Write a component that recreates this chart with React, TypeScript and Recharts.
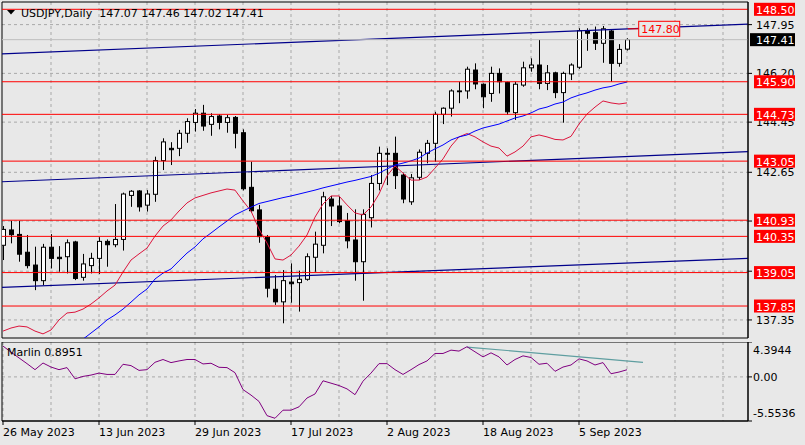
import React from "react";
import {
  ComposedChart,
  Bar,
  Line,
  XAxis,
  YAxis,
  CartesianGrid,
  ReferenceLine,
  ReferenceArea,
  ReferenceDot,
} from "recharts";

const FONT = "'DejaVu Sans', Tahoma, sans-serif";
const BG = "#E8E8E8";

// USDJPY daily candles, 26 May 2023 .. 13 Sep 2023 (one entry per bar)
const opens = [
  140.03, 140.58, 140.42, 139.78, 139.32, 138.76, 139.96, 139.6, 139.62, 140.15,
  138.88, 139.3, 139.56, 140.17, 140.05, 140.24, 141.82, 141.98, 141.47, 141.86,
  143.07, 143.51, 143.51, 144.05, 144.44, 144.77, 144.37, 144.67, 144.44, 144.62,
  144.07, 142.11, 141.3, 140.32, 138.45, 138.0, 138.71, 138.69, 138.81, 139.6,
  140.03, 141.69, 141.44, 140.91, 140.22, 139.44, 141.02, 142.25, 143.33, 143.33,
  142.55, 141.59, 142.47, 143.33, 143.69, 144.73, 144.95, 145.57, 145.57, 146.32,
  145.81, 145.48, 146.2, 145.87, 144.79, 145.78, 146.4, 146.5, 145.84, 146.22,
  145.51, 146.18, 146.42, 147.73, 147.66, 147.28, 147.72, 146.56, 147.07,
];
const highs = [
  140.72, 140.91, 140.91, 140.4, 139.98, 140.08, 140.43, 140.0, 140.24, 140.19,
  139.72, 139.76, 140.32, 140.24, 141.51, 141.92, 142.01, 142.01, 142.01, 143.21,
  143.87, 143.73, 144.17, 144.59, 144.92, 145.07, 144.77, 144.73, 144.71, 144.67,
  144.19, 143.03, 141.48, 140.4, 138.96, 139.14, 139.38, 139.12, 139.74, 140.52,
  141.95, 141.8, 141.8, 141.19, 141.32, 141.32, 142.55, 143.57, 143.51, 143.93,
  142.64, 142.59, 143.47, 143.81, 144.82, 144.98, 145.63, 145.9, 146.44, 146.56,
  145.84, 146.44, 146.38, 145.9, 145.9, 146.62, 146.74, 147.4, 146.5, 146.26,
  146.26, 146.56, 147.82, 147.82, 147.88, 147.9, 147.76, 147.25, 147.46,
];
const lows = [
  139.5, 140.1, 139.44, 139.2, 138.42, 138.6, 139.2, 139.08, 139.02, 138.78,
  138.76, 139.02, 139.0, 139.26, 139.96, 139.84, 141.41, 141.24, 141.24, 141.59,
  142.73, 142.91, 143.23, 143.71, 144.11, 144.14, 143.96, 144.19, 144.07, 143.51,
  142.0, 141.2, 140.12, 138.16, 137.89, 137.23, 137.97, 137.65, 138.76, 139.08,
  139.74, 140.72, 140.82, 139.92, 138.76, 138.04, 140.67, 142.0, 142.19, 142.05,
  141.54, 141.48, 142.37, 142.97, 143.03, 144.38, 144.65, 145.13, 145.29, 145.63,
  144.95, 145.18, 145.48, 144.71, 144.53, 145.72, 146.26, 145.63, 145.6, 145.31,
  144.43, 145.96, 146.36, 147.01, 147.04, 146.58, 145.9, 146.44, 147.02,
];
const closes = [
  140.6, 140.41, 139.71, 139.3, 138.76, 139.96, 139.56, 139.55, 140.12, 138.84,
  139.36, 139.56, 140.17, 140.05, 140.24, 141.87, 141.97, 141.41, 141.87, 143.07,
  143.74, 143.46, 144.05, 144.47, 144.77, 144.31, 144.65, 144.44, 144.61, 144.05,
  142.06, 141.27, 140.34, 138.49, 138.0, 138.76, 138.65, 138.81, 139.62, 140.07,
  141.77, 141.44, 140.88, 140.19, 139.44, 141.14, 142.25, 143.33, 143.3, 142.53,
  141.69, 142.45, 143.37, 143.69, 144.73, 144.95, 145.57, 145.55, 146.35, 145.82,
  145.36, 146.2, 145.9, 144.82, 145.81, 146.4, 146.5, 145.84, 146.22, 145.51,
  146.2, 146.5, 147.73, 147.64, 147.28, 147.8, 146.56, 147.06, 147.41,
];

// moving averages
const redMA = [
  136.95, 137.06, 137.13, 137.1, 136.95, 136.85, 136.99, 137.35, 137.6, 137.63,
  137.74, 137.92, 138.14, 138.39, 138.6, 139.07, 139.5, 139.72, 139.93, 140.36,
  140.72, 140.94, 141.26, 141.55, 141.73, 141.82, 141.91, 141.98, 142.05, 142.01,
  141.62, 141.26, 140.61, 140.11, 139.54, 139.5, 139.68, 140.0, 140.4, 141.04,
  141.51, 141.8, 141.8, 141.48, 141.19, 141.12, 141.4, 141.87, 142.52, 142.88,
  142.62, 142.37, 142.37, 142.48, 142.8, 143.13, 143.59, 143.92, 144.04, 143.92,
  143.74, 143.59, 143.52, 143.23, 143.38, 143.59, 143.92, 143.99, 143.92, 143.83,
  143.81, 143.94, 144.38, 144.74, 144.99, 145.21, 145.14, 145.1, 145.14,
];
const blueMA = [
  null, null, null, null, null, null, null, null, null, null,
  136.66, 136.88, 137.1, 137.35, 137.53, 137.74, 137.99, 138.25, 138.46, 138.82,
  139.03, 139.18, 139.47, 139.75, 139.97, 140.26, 140.47, 140.69, 140.9, 141.12,
  141.26, 141.4, 141.53, 141.6, 141.67, 141.74, 141.8, 141.87, 141.94, 142.01,
  142.09, 142.16, 142.23, 142.3, 142.36, 142.43, 142.5, 142.62, 142.77, 142.91,
  142.98, 143.06, 143.16, 143.34, 143.49, 143.63, 143.81, 143.92, 143.99, 144.13,
  144.24, 144.31, 144.38, 144.49, 144.6, 144.67, 144.78, 144.92, 144.99, 145.1,
  145.17, 145.32, 145.42, 145.5, 145.6, 145.68, 145.73, 145.82, 145.89,
];

// Marlin oscillator (lower panel)
const marlin = [
  3.88, 3.12, 2.39, 1.67, 0.91, 1.75, 1.24, 0.91, 1.17, -0.24,
  0.06, 0.23, 0.48, 0.31, 0.31, 1.59, 1.42, 0.82, 0.91, 1.84,
  2.19, 1.8, 2.01, 2.19, 2.19, 1.63, 1.72, 1.21, 1.17, 0.53,
  -1.6, -2.29, -3.09, -4.88, -5.21, -4.19, -4.19, -3.77, -2.66, -2.15,
  -0.49, -0.79, -1.09, -1.51, -2.24, -0.54, 0.48, 1.67, 1.67, 0.91,
  0.31, 0.91, 1.55, 2.01, 2.95, 2.95, 3.37, 3.25, 3.8, 3.16,
  2.52, 3.03, 2.52, 1.5, 2.19, 2.65, 2.44, 1.59, 1.72, 0.7,
  1.24, 1.5, 2.27, 2.01, 1.5, 1.8, 0.4, 0.61, 0.9,
];

const levels = [148.5, 145.9, 144.73, 143.05, 140.93, 140.35, 139.05, 137.85];
const lastPrice = 147.41;
const targetPrice = 147.8;
const priceTicks = [137.35, 139.1, 140.9, 142.65, 144.45, 146.2, 147.95];
const marlinTicks = [-5.5536, 0, 4.3944];

// channel lines: [bar, price] at both ends
const trendLines = [
  [[-0.125, 146.9], [93.125, 147.97]],
  [[-0.125, 142.31], [93.125, 143.39]],
  [[-0.125, 138.52], [93.125, 139.56]],
];
const divergence = [[58, 3.76], [80, 1.84]];

const dateTicks = [0, 12, 24, 36, 48, 60, 72];
const dateLabels = [
  "26 May 2023",
  "13 Jun 2023",
  "29 Jun 2023",
  "17 Jul 2023",
  "2 Aug 2023",
  "18 Aug 2023",
  "5 Sep 2023",
];
const gridBars = [0, 6, 12, 18, 24, 30, 36, 42, 48, 54, 60, 66, 72, 78, 84, 90];

const X_DOMAIN: [number, number] = [-0.125, 93.125];
const PRICE_DOMAIN: [number, number] = [136.702, 148.762];
const MARLIN_DOMAIN: [number, number] = [-5.5536, 4.3944];

const data = opens.map((o, i) => ({
  i,
  open: o,
  high: highs[i],
  low: lows[i],
  close: closes[i],
  red: redMA[i],
  blue: blueMA[i],
  marlin: marlin[i],
}));

function Candle(props: any) {
  const { x, y, width, height, payload } = props;
  if (x == null || payload == null) return null;
  const { open, close, high, low } = payload;
  const top = Math.min(y, y + height);
  const h = Math.abs(height);
  const toY = (p: number) => top + ((high - p) / (high - low)) * h;
  const cx = Math.round(x + width / 2) + 0.5;
  const bTop = toY(Math.max(open, close));
  const bBot = toY(Math.min(open, close));
  const up = close > open;
  return (
    <g>
      <line x1={cx} x2={cx} y1={top} y2={top + h} stroke="#000" />
      <rect
        x={cx - 2}
        y={bTop}
        width={4}
        height={Math.max(bBot - bTop, 0.8)}
        fill={up ? "#fff" : "#000"}
        stroke="#000"
      />
    </g>
  );
}

function PriceTick({ x, y, payload }: any) {
  return (
    <text x={x} y={y} dy={4} fontSize={11} fontFamily={FONT} fill="#000">
      {payload.value.toFixed(2)}
    </text>
  );
}

function MarlinTick({ x, y, payload }: any) {
  const v = payload.value;
  const shift = v === MARLIN_DOMAIN[1] ? 8 : v === MARLIN_DOMAIN[0] ? -8 : 0;
  return (
    <text x={x} y={y + shift} dy={4} fontSize={11} fontFamily={FONT} fill="#000">
      {v === 0 ? "0.00" : String(v)}
    </text>
  );
}

function DateTick({ x, y, payload }: any) {
  const idx = dateTicks.indexOf(payload.value);
  return (
    <text x={x} y={y} dy={9} fontSize={11} fontFamily={FONT} fill="#000">
      {dateLabels[idx]}
    </text>
  );
}

function PriceTag({ viewBox, text, fill, boxX = 6, boxW = 41 }: any) {
  if (!viewBox) return null;
  const x = viewBox.x + viewBox.width + boxX;
  const cy = viewBox.y;
  return (
    <g>
      <rect x={x} y={cy - 6.5} width={boxW} height={13} fill={fill} />
      <text x={x + (boxW - 41) + 2} y={cy + 4.5} fontSize={11} fontFamily={FONT} fill="#fff">
        {text}
      </text>
    </g>
  );
}

function TargetTag({ cx, cy }: any) {
  if (cx == null) return null;
  return (
    <g>
      <rect x={cx + 0.5} y={cy - 7.5} width={41} height={15} fill={BG} stroke="#FF0000" />
      <text x={cx + 3} y={cy + 4.5} fontSize={11} fontFamily={FONT} fill="#FF0000">
        {targetPrice.toFixed(2)}
      </text>
    </g>
  );
}

export default function App() {
  return (
    <div style={{ position: "relative", width: 805, height: 445, background: BG, overflow: "hidden" }}>
      <style>{`body{margin:0;background:${BG};}`}</style>

      <ComposedChart
        width={805}
        height={342}
        data={data}
        margin={{ top: 2, right: 0, bottom: 4, left: 2 }}
        style={{ position: "absolute", left: 0, top: 0 }}
      >
        <CartesianGrid
          stroke="#A8A8A8"
          strokeDasharray="3 3"
          verticalValues={gridBars}
          horizontalValues={priceTicks}
        />
        <XAxis dataKey="i" type="number" domain={X_DOMAIN} allowDataOverflow hide ticks={gridBars} />
        <YAxis
          orientation="right"
          width={57}
          domain={PRICE_DOMAIN}
          allowDataOverflow
          ticks={priceTicks}
          interval={0}
          tick={<PriceTick />}
          tickSize={4}
          tickMargin={4}
          tickLine={{ stroke: "#000" }}
          axisLine={{ stroke: "#000" }}
        />
        {trendLines.map((t, k) => (
          <ReferenceLine
            key={`t${k}`}
            segment={[
              { x: t[0][0], y: t[0][1] },
              { x: t[1][0], y: t[1][1] },
            ]}
            stroke="#00008B"
            strokeWidth={1.2}
          />
        ))}
        <ReferenceLine y={lastPrice} stroke="#BDBDBD" />
        <Bar
          dataKey={(d: any) => [d.low, d.high]}
          shape={<Candle />}
          barSize={5}
          isAnimationActive={false}
        />
        <Line dataKey="red" stroke="#DC143C" strokeWidth={1} dot={false} isAnimationActive={false} />
        <Line dataKey="blue" stroke="#0000FF" strokeWidth={1} dot={false} isAnimationActive={false} />
        {levels.map((lv) => (
          <ReferenceLine key={`l${lv}`} y={lv} stroke="#FF0000" />
        ))}
        <ReferenceLine
          segment={[
            { x: 78.1, y: targetPrice },
            { x: 79.4, y: targetPrice },
          ]}
          stroke="#FF0000"
        />
        <ReferenceDot x={79.4} y={targetPrice} r={1} shape={(p: any) => <TargetTag {...p} />} />
        <ReferenceArea
          x1={X_DOMAIN[0]}
          x2={X_DOMAIN[1]}
          y1={PRICE_DOMAIN[0]}
          y2={PRICE_DOMAIN[1]}
          fill="none"
          stroke="#000"
          fillOpacity={0}
        />
      </ComposedChart>

      {/* price tags on the right scale, drawn above the axis labels */}
      <ComposedChart
        width={805}
        height={342}
        data={data}
        margin={{ top: 2, right: 57, bottom: 4, left: 2 }}
        style={{ position: "absolute", left: 0, top: 0 }}
      >
        <XAxis dataKey="i" type="number" domain={X_DOMAIN} allowDataOverflow hide />
        <YAxis domain={PRICE_DOMAIN} allowDataOverflow hide />
        {levels.map((lv) => (
          <ReferenceLine
            key={`g${lv}`}
            y={lv}
            stroke="none"
            label={(p: any) => <PriceTag {...p} text={lv.toFixed(2)} fill="#FF0000" />}
          />
        ))}
        <ReferenceLine
          y={lastPrice}
          stroke="none"
          label={(p: any) => (
            <PriceTag {...p} text={lastPrice.toFixed(2)} fill="#000" boxX={2} boxW={45} />
          )}
        />
      </ComposedChart>

      <ComposedChart
        width={805}
        height={103}
        data={data}
        margin={{ top: 0, right: 0, bottom: 0, left: 2 }}
        style={{ position: "absolute", left: 0, top: 342 }}
      >
        <CartesianGrid
          stroke="#A8A8A8"
          strokeDasharray="3 3"
          verticalValues={gridBars}
          horizontalValues={[0]}
        />
        <XAxis
          dataKey="i"
          type="number"
          domain={X_DOMAIN}
          allowDataOverflow
          ticks={dateTicks}
          interval={0}
          height={24}
          tick={<DateTick />}
          tickSize={4}
          tickLine={{ stroke: "#000" }}
          axisLine={{ stroke: "#000" }}
        />
        <YAxis
          orientation="right"
          width={57}
          domain={MARLIN_DOMAIN}
          allowDataOverflow
          ticks={marlinTicks}
          interval={0}
          tick={<MarlinTick />}
          tickSize={4}
          tickMargin={1}
          tickLine={{ stroke: "#000" }}
          axisLine={{ stroke: "#000" }}
        />
        <ReferenceLine
          segment={[
            { x: divergence[0][0], y: divergence[0][1] },
            { x: divergence[1][0], y: divergence[1][1] },
          ]}
          stroke="#5F9EA0"
          strokeWidth={1.2}
        />
        <Line dataKey="marlin" stroke="#800080" strokeWidth={1} dot={false} isAnimationActive={false} />
        <ReferenceArea
          x1={X_DOMAIN[0]}
          x2={X_DOMAIN[1]}
          y1={MARLIN_DOMAIN[0]}
          y2={MARLIN_DOMAIN[1]}
          fill="none"
          stroke="#000"
          fillOpacity={0}
        />
      </ComposedChart>

      <svg width={805} height={445} style={{ position: "absolute", left: 0, top: 0, pointerEvents: "none" }}>
        <polygon points="7,10 15,10 11,14.5" fill="#000" />
        <text x={21} y={16.5} fontSize={11} fontFamily={FONT} fill="#000" style={{ whiteSpace: "pre" }}>
          {"USDJPY,Daily  147.07 147.46 147.02 147.41"}
        </text>
        <text x={7} y={356} fontSize={11} fontFamily={FONT} fill="#000">
          Marlin 0.8951
        </text>
      </svg>
    </div>
  );
}
